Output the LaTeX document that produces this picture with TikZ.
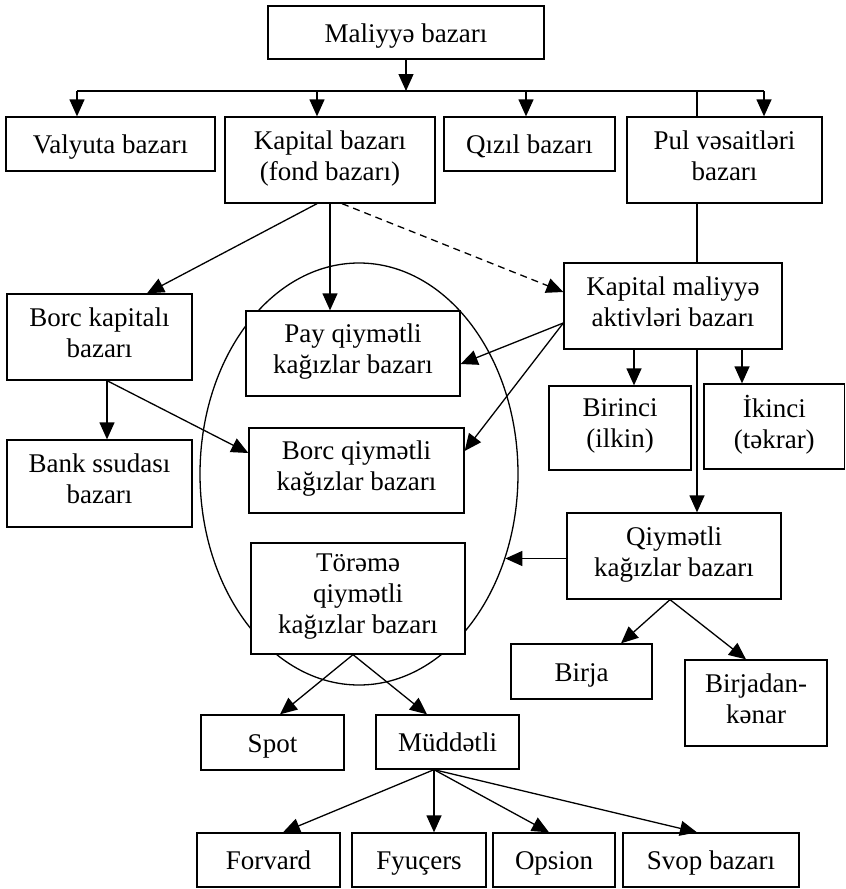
\documentclass[tikz,border=0pt]{standalone}
\usepackage{fontspec}
\setmainfont{Liberation Serif}
\usetikzlibrary{arrows.meta,calc,shapes.geometric}
\begin{document}
\begin{tikzpicture}[x=1pt,y=-1pt,
  box/.style={draw,fill=white,line width=1.3pt,align=center,inner sep=0pt,font=\fontsize{27}{31}\selectfont,
    execute at begin node=\rule{0pt}{28.3pt}, execute at end node=\strut},
  arr/.style={line width=1.3pt,-{Triangle[length=17pt,width=15pt]}},
  ln/.style={line width=1.3pt},
  dsh/.style={line width=1.3pt,dash pattern=on 7pt off 5pt,-{Triangle[length=17pt,width=15pt]}}]
\useasboundingbox (0,0) rectangle (846,889);

% ellipse behind boxes
\node[draw,ellipse,line width=1.3pt,minimum width=318pt,minimum height=422pt,inner sep=0pt] (ell) at (359,474) {};

% boxes
\node[box,minimum width=276pt,minimum height=53pt] (mal) at (406,32.5) {Maliyyə bazarı};
\node[box,minimum width=209pt,minimum height=54pt] (val) at (110.5,144) {Valyuta bazarı};
\node[box,minimum width=210pt,minimum height=86pt] (kap) at (330,160) {Kapital bazarı\\(fond bazarı)};
\node[box,minimum width=171pt,minimum height=54pt] (qiz) at (529.5,144) {Qızıl bazarı};
\node[box,minimum width=195pt,minimum height=86pt] (pul) at (724.5,160) {Pul vəsaitləri\\bazarı};
\node[box,minimum width=185pt,minimum height=86pt] (bkb) at (99.5,337) {Borc kapitalı\\bazarı};
\node[box,minimum width=214pt,minimum height=85pt] (pay) at (353,353.5) {Pay qiymətli\\kağızlar bazarı};
\node[box,minimum width=218pt,minimum height=86pt] (kma) at (673,306) {Kapital maliyyə\\aktivləri bazarı};
\node[box,minimum width=142pt,minimum height=84pt] (bir) at (620,428) {Birinci\\(ilkin)};
\node[box,minimum width=140.5pt,minimum height=85pt] (iki) at (774.25,426.5) {İkinci\\(təkrar)};
\node[box,minimum width=185pt,minimum height=87pt] (bank) at (99.5,483.5) {Bank ssudası\\bazarı};
\node[box,minimum width=215pt,minimum height=85pt] (bqk) at (356.5,470.5) {Borc qiymətli\\kağızlar bazarı};
\node[box,minimum width=214pt,minimum height=86pt] (qkb) at (674,556) {Qiymətli\\kağızlar bazarı};
\node[box,minimum width=214pt,minimum height=111pt] (tor) at (358,598.5) {Törəmə\\qiymətli\\kağızlar bazarı};
\node[box,minimum width=141pt,minimum height=55pt] (birja) at (581.5,671.5) {Birja};
\node[box,minimum width=142pt,minimum height=86pt] (bkn) at (756,703) {Birjadan-\\kənar};
\node[box,minimum width=143pt,minimum height=55pt] (spot) at (272.5,742.5) {Spot};
\node[box,minimum width=143pt,minimum height=54pt] (mud) at (447.5,742) {Müddətli};
\node[box,minimum width=143pt,minimum height=54pt] (forv) at (268.5,860) {Forvard};
\node[box,minimum width=134pt,minimum height=54pt] (fyu) at (419,860) {Fyuçers};
\node[box,minimum width=122pt,minimum height=54pt] (ops) at (554,860) {Opsion};
\node[box,minimum width=176pt,minimum height=54pt] (svop) at (711,860) {Svop bazarı};

% helper coordinates
\coordinate (bus) at (406,91);
\coordinate (bl) at (77,91);
\coordinate (b2) at (317,91);
\coordinate (b3) at (526,91);
\coordinate (b4) at (697,91);
\coordinate (br) at (764,91);
\coordinate (xbk) at (147,0);
\coordinate (xd) at (342,0);
\coordinate (xbb) at (107,0);
\coordinate (xb1) at (634,0);
\coordinate (xb2) at (742,0);
\coordinate (xt) at (353,0);
\coordinate (xs) at (280,0);
\coordinate (xm) at (427,0);
\coordinate (xmo) at (434,0);
\coordinate (xf) at (283,0);
\coordinate (xo) at (549,0);
\coordinate (xsv) at (697,0);
\coordinate (xq) at (670,0);
\coordinate (xbj) at (621,0);
\coordinate (xbn) at (746,0);

% connectors
\draw[arr] (mal.south) -- (mal.south |- bus);
\draw[ln] (bl) -- (br);
\draw[arr] (bl) -- (bl |- val.north);
\draw[arr] (b2) -- (b2 |- kap.north);
\draw[arr] (b3) -- (b3 |- qiz.north);
\draw[ln] (b4) -- (b4 |- pul.north);
\draw[arr] (br) -- (br |- pul.north);
\draw[ln] (b4 |- pul.south) -- (b4 |- kma.north);
\draw[arr] (b4 |- kma.south) -- (b4 |- qkb.north);
\draw[arr] (xb1 |- kma.south) -- (xb1 |- bir.north);
\draw[arr] (xb2 |- kma.south) -- (xb2 |- iki.north);

\draw[arr] (b2 |- kap.south) -- (xbk |- bkb.north);
\draw[arr] (kap.south) -- (kap.south |- pay.north);
\draw[dsh] (xd |- kap.south) -- ($(kma.west)+(0,-14)$);

\draw[arr] ($(kma.west)+(0,17)$) -- ($(pay.east)+(0,10.5)$);
\draw[arr] ($(kma.west)+(0,17)$) -- ($(bqk.east)+(0,-19.5)$);

\draw[arr] (xbb |- bkb.south) -- (xbb |- bank.north);
\draw[arr] (xbb |- bkb.south) -- ($(bqk.west)+(0,-17.5)$);

\draw[arr] (ell.-30.2 -| qkb.west) -- (ell.-30.2);

\draw[arr] (xt |- tor.south) -- (xs |- spot.north);
\draw[arr] (xt |- tor.south) -- (xm |- mud.north);

\draw[arr] (xmo |- mud.south) -- (xf |- forv.north);
\draw[arr] (xmo |- mud.south) -- (xmo |- fyu.north);
\draw[arr] (xmo |- mud.south) -- (xo |- ops.north);
\draw[arr] (xmo |- mud.south) -- (xsv |- svop.north);

\draw[arr] (xq |- qkb.south) -- (xbj |- birja.north);
\draw[arr] (xq |- qkb.south) -- (xbn |- bkn.north);
\end{tikzpicture}
\end{document}
